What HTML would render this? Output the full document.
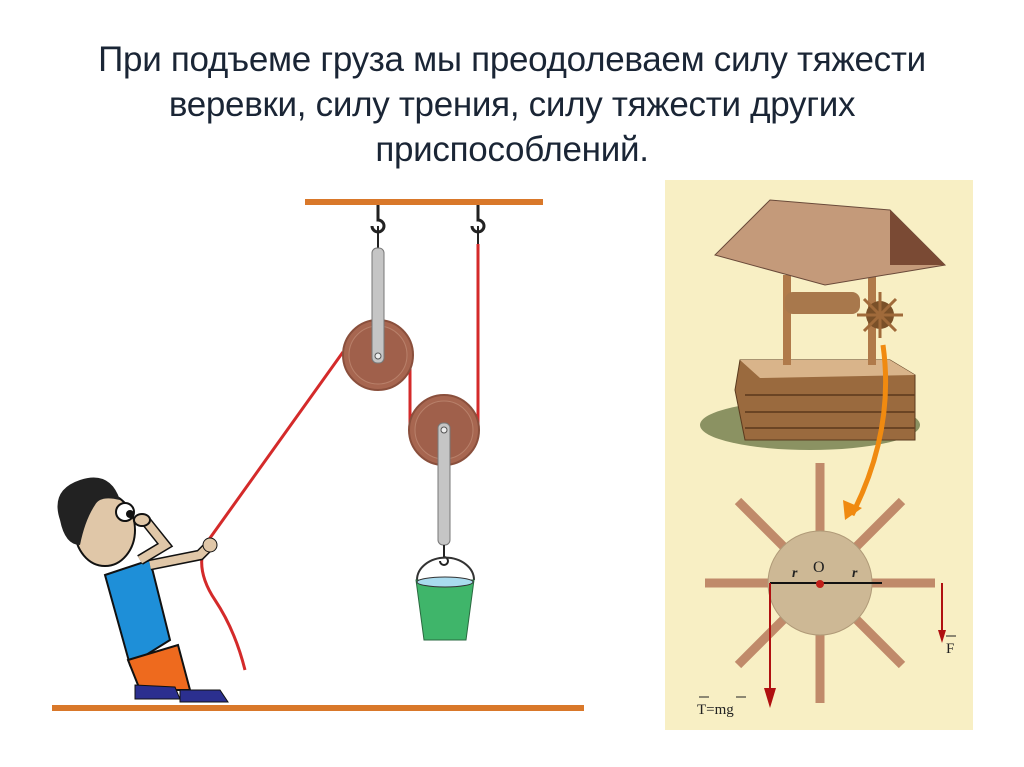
<!DOCTYPE html>
<html><head><meta charset="utf-8"><style>
body{margin:0;width:1024px;height:767px;background:#fff;overflow:hidden;font-family:"Liberation Sans",sans-serif}
.t{position:absolute;left:0;top:37px;width:1024px;text-align:center;font-size:35px;line-height:45px;color:#1a2535;letter-spacing:-0.3px}
svg{position:absolute;left:0;top:0}
</style></head><body>
<div class="t">При подъеме груза мы преодолеваем силу тяжести<br>веревки, силу трения, силу тяжести других<br>приспособлений.</div>
<svg width="1024" height="767" viewBox="0 0 1024 767">
<rect x="305" y="199" width="238" height="6" fill="#d9782a"/>
<rect x="52" y="705" width="532" height="6" fill="#d9782a"/>
<path d="M378 205v15 a6 6 0 1 1-6 6 M478 205v15 a6 6 0 1 1-6 6" stroke="#222" stroke-width="3" fill="none"/>
<path d="M378 226v22 M478 226v18" stroke="#222" stroke-width="2"/>
<path d="M478 244 V430 M410 355 V430 M343 352 L205 545 Q195 570 215 600 Q235 630 245 670" stroke="#d42a2a" stroke-width="3" fill="none"/>
<circle cx="378" cy="355" r="35" fill="#a76650" stroke="#8a4f3c" stroke-width="2"/>
<circle cx="378" cy="355" r="29" fill="#a0604b" stroke="#b8806a"/>
<circle cx="444" cy="430" r="35" fill="#a76650" stroke="#8a4f3c" stroke-width="2"/>
<circle cx="444" cy="430" r="29" fill="#a0604b" stroke="#b8806a"/>
<rect x="372" y="248" width="12" height="115" rx="5" fill="#c5c5c5" stroke="#777"/>
<circle cx="378" cy="356" r="3" fill="#eee" stroke="#555"/>
<rect x="438" y="423" width="12" height="122" rx="5" fill="#c5c5c5" stroke="#777"/>
<circle cx="444" cy="430" r="3" fill="#eee" stroke="#555"/>
<path d="M444 545v12 a4 4 0 1 1-4 4" stroke="#222" stroke-width="2" fill="none"/>
<path d="M417 580 A28 22 0 0 1 474 580" stroke="#333" stroke-width="2" fill="none"/>
<path d="M416 580 L474 580 L466 640 L424 640 Z" fill="#3fb56a" stroke="#2a6a40"/>
<ellipse cx="445" cy="582" rx="28" ry="5" fill="#a9dcef" stroke="#333"/>
<path d="M105 575 L150 560 L170 640 L130 665 Z" fill="#1e8fd8" stroke="#111" stroke-width="2"/>
<path d="M128 660 L178 645 L190 690 L140 690 Z" fill="#ee6a1e" stroke="#111" stroke-width="2"/>
<path d="M135 685 l40 2 l5 12 l-45 0z M180 690 l40 0 l8 12 l-48 0z" fill="#2b2f8f" stroke="#111"/>
<path d="M150 565 L200 555 L210 545" stroke="#111" stroke-width="11" fill="none"/>
<path d="M150 565 L200 555 L210 545" stroke="#e0c7a8" stroke-width="8" fill="none"/>
<path d="M140 560 L165 545 L145 520" stroke="#111" stroke-width="11" fill="none"/>
<path d="M140 560 L165 545 L145 520" stroke="#e0c7a8" stroke-width="8" fill="none"/>
<ellipse cx="105" cy="530" rx="30" ry="36" fill="#e0c7a8" stroke="#111" stroke-width="2"/>
<path d="M60 520 Q50 490 80 480 Q110 470 120 500 Q100 495 95 505 Q85 520 80 545 Q65 545 60 520Z" fill="#222"/>
<circle cx="125" cy="512" r="9" fill="#fff" stroke="#111" stroke-width="2"/>
<circle cx="130" cy="514" r="4" fill="#111"/>
<ellipse cx="142" cy="520" rx="8" ry="6" fill="#e0c7a8" stroke="#111" stroke-width="2"/>
<circle cx="210" cy="545" r="7" fill="#e0c7a8" stroke="#111"/>
<rect x="665" y="180" width="308" height="550" fill="#f8efc4"/>
<ellipse cx="810" cy="425" rx="110" ry="25" fill="#6f7a4a" opacity=".8"/>
<path d="M740 360 L890 360 L915 375 L915 440 L745 440 L735 390 Z" fill="#9a6a3e" stroke="#5a3a1e"/>
<path d="M740 360 L890 360 L915 375 L760 378Z" fill="#d9b48a"/>
<path d="M745 395 H915 M745 412 H915 M745 428 H915" stroke="#6a4424" stroke-width="2"/>
<rect x="783" y="275" width="8" height="90" fill="#b07a4a"/>
<rect x="868" y="265" width="8" height="100" fill="#b07a4a"/>
<path d="M715 255 L770 200 L890 210 L945 265 L825 285Z" fill="#c49a7a" stroke="#6a4a3a"/>
<path d="M890 210 L945 265 L890 265Z" fill="#7a4a34"/>
<rect x="785" y="292" width="75" height="22" rx="8" fill="#a8784c"/>
<circle cx="880" cy="315" r="14" fill="#7a5028"/>
<path d="M880 292v46 M857 315h46 M864 299l32 32 M896 299l-32 32" stroke="#a06a3a" stroke-width="3"/>
<path d="M883 345 Q895 430 852 515" stroke="#f08a10" stroke-width="5" fill="none"/>
<path d="M845 520 L843 500 L862 508Z" fill="#f08a10"/>
<g stroke="#c08a6a" stroke-width="9">
<line x1="820" y1="463" x2="820" y2="703"/>
<line x1="705" y1="583" x2="935" y2="583"/>
<line x1="738" y1="501" x2="902" y2="665"/>
<line x1="902" y1="501" x2="738" y2="665"/>
</g>
<circle cx="820" cy="583" r="52" fill="#cdb895" stroke="#b09a78"/>
<line x1="770" y1="583" x2="882" y2="583" stroke="#111" stroke-width="2"/>
<circle cx="820" cy="584" r="4" fill="#c0201a"/>
<text x="813" y="572" font-family="Liberation Serif,serif" font-size="16" fill="#222">O</text>
<text x="792" y="577" font-family="Liberation Serif,serif" font-style="italic" font-weight="bold" font-size="14" fill="#222">r</text>
<text x="852" y="577" font-family="Liberation Serif,serif" font-style="italic" font-weight="bold" font-size="14" fill="#222">r</text>
<line x1="770" y1="583" x2="770" y2="695" stroke="#b01010" stroke-width="2"/>
<path d="M764 688 L776 688 L770 708Z" fill="#b01010"/>
<line x1="942" y1="583" x2="942" y2="635" stroke="#b01010" stroke-width="2"/>
<path d="M938 630 L946 630 L942 643Z" fill="#b01010"/>
<text x="946" y="653" font-family="Liberation Serif,serif" font-size="15" fill="#222">F</text>
<path d="M946 636h10 M699 697h10 M736 697h10" stroke="#222" stroke-width="1"/>
<text x="697" y="714" font-family="Liberation Serif,serif" font-size="15" fill="#222">T=mg</text>
</svg>
</body></html>
